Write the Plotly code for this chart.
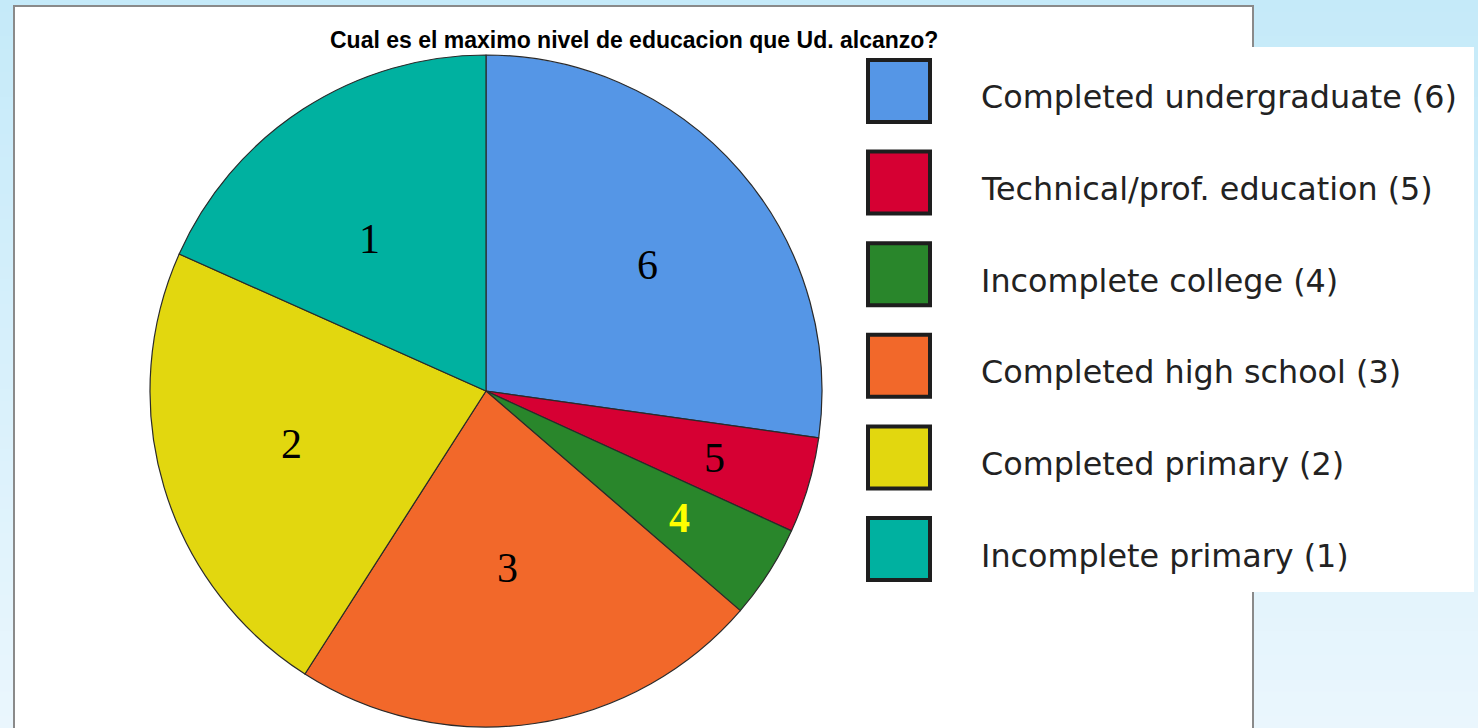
import math
import plotly.graph_objects as go

# ---------------- data ----------------
categories = [
    "Completed undergraduate (6)",
    "Technical/prof. education (5)",
    "Incomplete college (4)",
    "Completed high school (3)",
    "Completed primary (2)",
    "Incomplete primary (1)",
]
slice_labels = ["6", "5", "4", "3", "2", "1"]
shares = [27.2, 4.6, 4.5, 22.7, 22.6, 18.3]
colors = ["#5596e6", "#d60033", "#29862b", "#f2682a", "#e2d70f", "#00b1a0"]
label_colors = ["#000000", "#000000", "#ffff00", "#000000", "#000000", "#000000"]
title_text = "Cual es el maximo nivel de educacion que Ud. alcanzo?"

# label placement style (fraction of radius, angular nudge in degrees)
label_radius = [0.61, 0.71, 0.69, 0.53, 0.60, 0.57]
label_nudge = [3, 0, 0.5, 1.5, 1.5, -4.5]

W, H = 1478, 728


def px(x):
    return x / W


def py(y):
    return 1 - y / H


shapes = []
# light-blue gradient background (bands)
n_bands = 60
top_rgb = (197, 234, 249)
bot_rgb = (234, 246, 253)
for i in range(n_bands):
    t = i / (n_bands - 1)
    c = tuple(round(top_rgb[k] + (bot_rgb[k] - top_rgb[k]) * t) for k in range(3))
    shapes.append(dict(type="rect", xref="paper", yref="paper",
                       x0=0, x1=1, y0=1 - (i + 1) / n_bands - 0.002, y1=1 - i / n_bands,
                       fillcolor="rgb(%d,%d,%d)" % c, line=dict(width=0), layer="below"))
# white chart panel with grey frame
shapes.append(dict(type="rect", xref="paper", yref="paper",
                   x0=px(14), x1=px(1253), y0=py(740), y1=py(6),
                   fillcolor="white", line=dict(color="#8a8a8a", width=2), layer="below"))
# legend panel
shapes.append(dict(type="rect", xref="paper", yref="paper",
                   x0=px(850), x1=px(1474), y0=py(592), y1=py(47),
                   fillcolor="white", line=dict(width=0), layer="below"))

annotations = [dict(text="<b>" + title_text + "</b>", x=px(634), y=py(40),
                    xref="paper", yref="paper", showarrow=False,
                    xanchor="center", yanchor="middle",
                    font=dict(family="Liberation Sans, Arial", size=23, color="#000"))]

# legend entries
sw = 62
for i, (cat, col) in enumerate(zip(categories, colors)):
    cy = 91 + i * 91.6
    shapes.append(dict(type="rect", xref="paper", yref="paper",
                       x0=px(868), x1=px(868 + sw), y0=py(cy + sw / 2), y1=py(cy - sw / 2),
                       fillcolor=col, line=dict(color="#1e1e1e", width=4), layer="below"))
    annotations.append(dict(text=cat, x=px(979), y=py(cy + 6), xref="paper", yref="paper",
                            xanchor="left", yanchor="middle", showarrow=False,
                            font=dict(family="DejaVu Sans", size=31.8, color="#222")))

# pie geometry (pixels)
cx, cy0, R = 486, 391, 336

# slice labels placed at the middle angle of each slice, from the data
total = sum(shares)
acc = 0.0
for lab, val, col, rf, nd in zip(slice_labels, shares, label_colors, label_radius, label_nudge):
    mid = (acc + val / 2) / total * 360 + nd
    acc += val
    a = math.radians(mid)
    lx = cx + rf * R * math.sin(a)
    ly = cy0 - rf * R * math.cos(a)
    txt = "<b>%s</b>" % lab if col == "#ffff00" else lab
    annotations.append(dict(text=txt, x=px(lx), y=py(ly), xref="paper", yref="paper",
                            xanchor="center", yanchor="middle", showarrow=False,
                            font=dict(family="Liberation Serif, DejaVu Serif", size=42, color=col)))

fig = go.Figure(go.Pie(
    labels=categories, values=shares,
    textinfo="none",
    marker=dict(colors=colors, line=dict(color="#2a2a2a", width=1.2)),
    sort=False, direction="clockwise", rotation=0,
    domain=dict(x=[px(cx - R), px(cx + R)], y=[py(cy0 + R), py(cy0 - R)]),
    showlegend=False, hoverinfo="label+percent",
))

fig.update_layout(
    width=W, height=H, margin=dict(l=0, r=0, t=0, b=0),
    paper_bgcolor="#d8f0fb", plot_bgcolor="white",
    shapes=shapes, annotations=annotations,
)
fig.write_html("out.html", config={"displayModeBar": False},
               post_script="document.body.style.margin='0';document.body.style.overflow='hidden';")
